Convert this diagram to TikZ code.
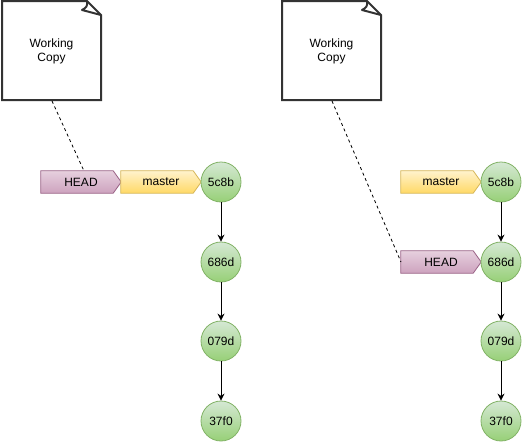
\documentclass[tikz,border=0pt]{standalone}
\usepackage{fontspec}
\setmainfont{Liberation Sans}
\usetikzlibrary{arrows.meta,backgrounds}
\definecolor{hdr}{HTML}{996185}
\definecolor{hdt}{HTML}{E6D0DE}
\definecolor{hdb}{HTML}{CDA2BE}
\definecolor{msr}{HTML}{D6B656}
\definecolor{mst}{HTML}{FFF2CC}
\definecolor{msb}{HTML}{FFD966}
\definecolor{cmr}{HTML}{82B366}
\definecolor{cmt}{HTML}{D5E8D4}
\definecolor{cmb}{HTML}{97D077}
\tikzset{
  tag/.style={rectangle, minimum width=80pt, minimum height=22pt, inner sep=0pt,
    font=\fontsize{12}{14}\selectfont},
  headfill/.style={draw=hdr, top color=hdt, bottom color=hdb, line width=0.8pt},
  masterfill/.style={draw=msr, top color=mst, bottom color=msb, line width=0.8pt},
  commit/.style={circle, minimum size=40pt, inner sep=0pt, draw=cmr, line width=0.8pt,
    top color=cmt, bottom color=cmb, font=\fontsize{12}{14}\selectfont},
  notebox/.style={line width=2pt, draw=black!80, fill=white, line join=miter},
  notetext/.style={align=center, font=\fontsize{12}{14}\selectfont},
  link/.style={-{Stealth[length=7pt,width=7pt]}, line width=0.8pt},
  dashlink/.style={dash pattern=on 3pt off 3pt, line width=0.8pt}
}
\newcommand{\tagpath}[2]{%
  \shade[#2] (#1.north west) -- ([xshift=-8pt]#1.north east) -- (#1.east)
    -- ([xshift=-8pt]#1.south east) -- (#1.south west) -- cycle;}
\begin{document}
\begin{tikzpicture}[x=1pt,y=-1pt]
\useasboundingbox (0,0) rectangle (522,442);
% left note
\draw[notebox] (2,1) -- (87,1) -- (101,15) -- (101,100) -- (2,100) -- cycle;
\draw[line width=2pt, draw=black!80, line join=round] (87,1) .. controls (88,6) and (86,8) .. (82,10) -- (101,15);
\node[notetext] (wc1) at (51.5,51) {Working\\Copy};
\coordinate (nb1) at (52,101);
% right note
\draw[notebox] (282,1) -- (367,1) -- (381,15) -- (381,100) -- (282,100) -- cycle;
\draw[line width=2pt, draw=black!80, line join=round] (367,1) .. controls (368,6) and (366,8) .. (362,10) -- (381,15);
\node[notetext] (wc2) at (331.5,51) {Working\\Copy};
\coordinate (nb2) at (332,101);
% left commits
\node[commit] (a1) at (221,182) {5c8b};
\node[commit] (b1) at (221,262) {686d};
\node[commit] (c1) at (221,341) {079d};
\node[commit] (d1) at (221,421) {37f0};
\draw[link] (a1) -- (b1);
\draw[link] (b1) -- (c1);
\draw[link] (c1) -- (d1);
\node[tag] (h1) at (81,182) {HEAD};
\node[tag] (m1) at (161,182) {master};
\coordinate (h1t) at (84,171);
\draw[dashlink] (nb1) -- (h1t);
% right commits
\node[commit] (a2) at (501,182) {5c8b};
\node[commit] (b2) at (501,262) {686d};
\node[commit] (c2) at (501,341) {079d};
\node[commit] (d2) at (501,421) {37f0};
\draw[link] (a2) -- (b2);
\draw[link] (b2) -- (c2);
\draw[link] (c2) -- (d2);
\node[tag] (m2) at (441,182) {master};
\node[tag] (h2) at (441,262) {HEAD};
\coordinate (h2l) at (401,262);
\draw[dashlink] (nb2) -- (h2l);
\begin{scope}[on background layer]
  \tagpath{h1}{headfill}
  \tagpath{m1}{masterfill}
  \tagpath{m2}{masterfill}
  \tagpath{h2}{headfill}
\end{scope}
\end{tikzpicture}
\end{document}
